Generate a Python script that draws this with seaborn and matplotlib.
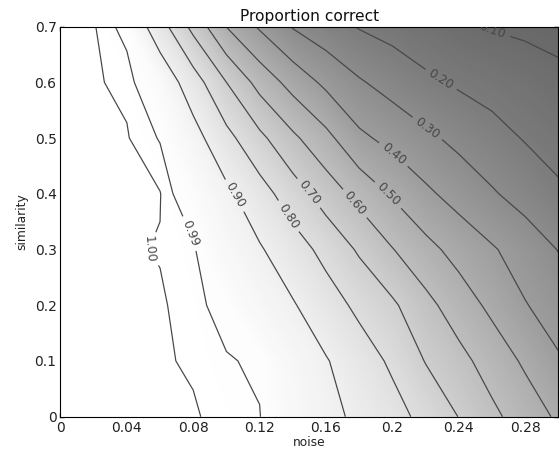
import numpy as np
import matplotlib
matplotlib.use("Agg")
import matplotlib.pyplot as plt
import seaborn as sns
from matplotlib.colors import Normalize

# grid of the simulation
noise = [0.00, 0.02, 0.04, 0.06, 0.08, 0.10, 0.12, 0.14,
         0.16, 0.18, 0.20, 0.22, 0.24, 0.26, 0.28, 0.30]
similarity = [0.0, 0.1, 0.2, 0.3, 0.4, 0.5, 0.6, 0.7]

# proportion correct, one row per similarity value (columns follow noise)
pc_sim00 = [1.0, 1.0, 1.0, 1.0, 1.0, 0.9956, 0.9909, 0.956,
            0.921, 0.885, 0.835, 0.772, 0.698, 0.622, 0.553, 0.485]
pc_sim01 = [1.0, 1.0, 1.0, 1.0, 0.9979, 0.9917, 0.9868, 0.946,
            0.906, 0.8485, 0.784, 0.696, 0.630, 0.557, 0.485, 0.410]
pc_sim02 = [1.0, 1.0, 1.0, 1.0, 0.9956, 0.9817, 0.9446, 0.9075,
            0.845, 0.778, 0.716, 0.629, 0.550, 0.478, 0.405, 0.356]
pc_sim03 = [1.0, 1.0, 1.0, 0.9985, 0.993, 0.9527, 0.9088, 0.845,
            0.771, 0.6875, 0.604, 0.530, 0.466, 0.410, 0.355, 0.297]
pc_sim04 = [1.0, 1.0, 1.0, 0.9995, 0.9751, 0.9195, 0.841, 0.7476,
            0.6545, 0.568, 0.4895, 0.419, 0.362, 0.310, 0.262, 0.215]
pc_sim05 = [1.0, 1.0, 0.9998, 0.989, 0.935, 0.830, 0.7235, 0.619,
            0.528, 0.420, 0.370, 0.320, 0.275, 0.233, 0.194, 0.165]
pc_sim06 = [1.0, 1.0, 0.9969, 0.9662, 0.848, 0.700, 0.565, 0.463,
            0.378, 0.310, 0.262, 0.218, 0.187, 0.1645, 0.142, 0.120]
pc_sim07 = [1.0, 1.0, 0.9846, 0.843, 0.672, 0.498, 0.388, 0.2937,
            0.241, 0.194, 0.167, 0.140, 0.113, 0.095, 0.085, 0.075]

line_levels = [0.1, 0.2, 0.3, 0.4, 0.5, 0.6, 0.7, 0.8, 0.9, 0.99, 0.999]

xtick_vals = [0, 0.04, 0.08, 0.12, 0.16, 0.2, 0.24, 0.28]
xtick_labels = ['0', '0.04', '0.08', '0.12', '0.16', '0.2', '0.24', '0.28']
ytick_vals = [0, 0.1, 0.2, 0.3, 0.4, 0.5, 0.6, 0.7]
ytick_labels = ['0', '0.1', '0.2', '0.3', '0.4', '0.5', '0.6', '0.7']

sns.set_theme(style="ticks", rc={'axes.edgecolor': 'black',
                                 'axes.linewidth': 1.0,
                                 'xtick.direction': 'in',
                                 'ytick.direction': 'in'})
plt.rcParams['font.family'] = ['DejaVu Sans']

grid = np.array([pc_sim00, pc_sim01, pc_sim02, pc_sim03,
                 pc_sim04, pc_sim05, pc_sim06, pc_sim07])

fig = plt.figure(figsize=(7, 5.625), dpi=80)
ax = fig.add_axes([0.108, 0.074, 0.889, 0.867])

grey = sns.blend_palette(["black", "white"], as_cmap=True)
ax.contourf(noise, similarity, grid, levels=np.linspace(0.05, 1.0, 191),
            cmap=grey, norm=Normalize(vmin=-0.55, vmax=1.0))
cs = ax.contour(noise, similarity, grid, levels=line_levels,
                colors='0.28', linewidths=1.1)

# where the labels sit on the reference
spots = [(0.0495, 0.30), (0.079, 0.33), (0.107, 0.40), (0.137, 0.359),
         (0.1496, 0.401), (0.1776, 0.383), (0.1975, 0.398), (0.1995, 0.467),
         (0.2205, 0.515), (0.228, 0.599), (0.2605, 0.694)]
ax.clabel(cs, fmt='%.2f', fontsize=11, inline=True, manual=spots)

ax.set_xlim(0, 0.3)
ax.set_ylim(0, 0.7)
ax.set_xticks(xtick_vals)
ax.set_xticklabels(xtick_labels)
ax.set_yticks(ytick_vals)
ax.set_yticklabels(ytick_labels)
ax.tick_params(direction='in', top=True, right=True, length=4,
               labelsize=12.5, colors='black', labelcolor='#222222')
for s in ax.spines.values():
    s.set_visible(True)
    s.set_color('black')

ax.set_xlabel('noise', fontsize=11, labelpad=1, color='#222222')
ax.set_ylabel('similarity', fontsize=11, labelpad=6, color='#222222')
ax.set_title('Proportion correct', fontsize=14, color='#111111', pad=5)

plt.savefig('out.png', dpi=80)
